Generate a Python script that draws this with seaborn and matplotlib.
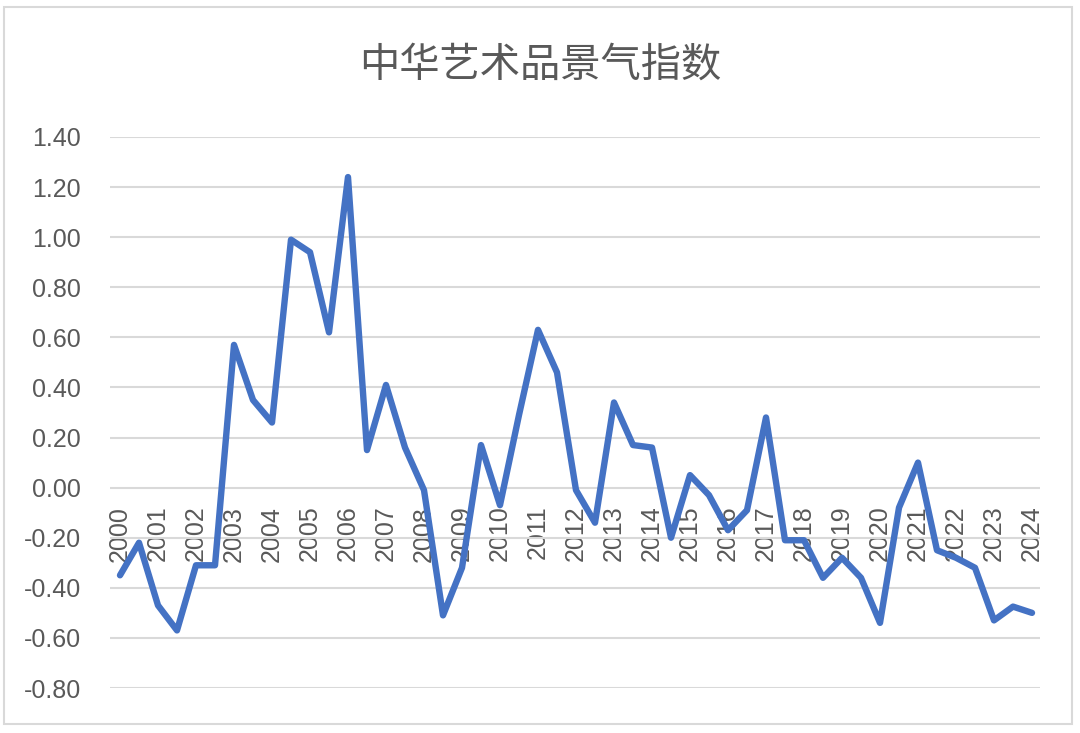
import numpy as np
import pandas as pd
import matplotlib
matplotlib.use("Agg")
import matplotlib.pyplot as plt
import seaborn as sns
from matplotlib.patches import Rectangle

# half-year readings, 2000 H1 .. 2024 H1
index_values = [
    -0.35, -0.22, -0.47, -0.57, -0.31, -0.31, 0.57, 0.35, 0.26, 0.99,
    0.94, 0.62, 1.24, 0.15, 0.41, 0.16, -0.01, -0.51, -0.32, 0.17,
    -0.07, 0.29, 0.63, 0.46, -0.01, -0.14, 0.34, 0.17, 0.16, -0.20,
    0.05, -0.03, -0.17, -0.09, 0.28, -0.21, -0.21, -0.36, -0.28, -0.36,
    -0.54, -0.08, 0.10, -0.25, -0.28, -0.32, -0.53, -0.475, -0.50,
]
periods = np.arange(2000, 2024.01, 0.5)
year_ticks = list(range(2000, 2025))
y_ticks = [-0.8, -0.6, -0.4, -0.2, 0.0, 0.2, 0.4, 0.6, 0.8, 1.0, 1.2, 1.4]
title = "中华艺术品景气指数"

df = pd.DataFrame({"period": periods, "value": index_values})

sns.set_style("white")
plt.rcParams['font.family'] = ['Liberation Sans', 'Noto Sans CJK SC', 'DejaVu Sans']

grey = "#595959"
fig = plt.figure(figsize=(10.8, 7.33), dpi=100)
ax = fig.add_axes([110 / 1080, 1 - 688 / 733, 930 / 1080, 551 / 733])

sns.lineplot(data=df, x="period", y="value", ax=ax, color="#4472C4", linewidth=4.6)

ax.set_ylim(-0.8, 1.4)
ax.set_xlim(2000 - 10 / 38, 2024 + 8 / 38)
ax.set_yticks(y_ticks)
ax.set_yticklabels([f"{v:.2f}" for v in y_ticks])
ax.yaxis.grid(True, color="#D9D9D9", linewidth=1.5)
ax.set_axisbelow(True)

# category labels sit on the zero line, like the Excel chart
ax.spines["bottom"].set_position(("data", 0))
ax.set_xticks(year_ticks)
ax.set_xticklabels([str(y) for y in year_ticks], rotation=90)
for s in ax.spines.values():
    s.set_visible(False)
ax.tick_params(axis="x", length=0, pad=13, labelsize=18, labelcolor=grey)
ax.tick_params(axis="y", length=0, pad=21, labelsize=18, labelcolor=grey)
ax.set_xlabel("")
ax.set_ylabel("")

fig.text(0.5, 1 - 65 / 733, title, ha="center", va="center", fontsize=29,
         color=grey, fontweight="light", family=["Noto Sans CJK SC", "DejaVu Sans"])

fig.patches.append(Rectangle((4 / 1080, 1 - 724 / 733), 1068 / 1080, 717 / 733,
                             transform=fig.transFigure, fill=False,
                             edgecolor="#D9D9D9", linewidth=1.5))

fig.savefig("out.png", dpi=100)
